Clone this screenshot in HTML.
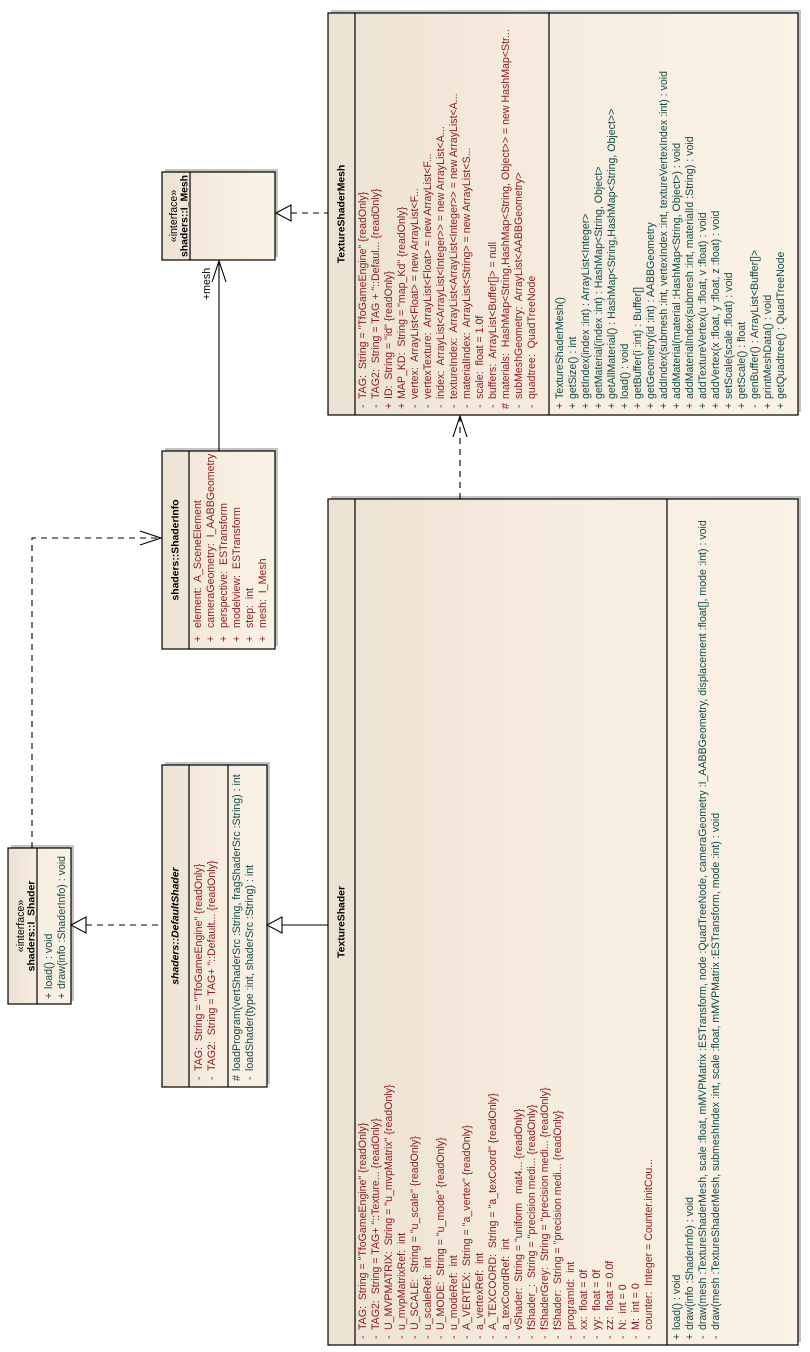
<!DOCTYPE html>
<html><head><meta charset="utf-8"><style>
html,body{margin:0;padding:0;background:#fff;}
svg{display:block;}
text{font-family:"Liberation Sans",sans-serif;font-size:10.6px;white-space:pre;}
.a{fill:#8b1c1c;}
.m{fill:#0f4a48;}
.h{fill:#000;font-weight:bold;font-size:10.4px;}
</style></head><body>
<svg width="810" height="1352" viewBox="0 0 810 1352" xmlns="http://www.w3.org/2000/svg" xml:space="preserve">
<defs>
<linearGradient id="g" x1="0" y1="0" x2="1" y2="0">
<stop offset="0" stop-color="#ece2d3"/><stop offset="0.5" stop-color="#f7ece0"/><stop offset="1" stop-color="#fbf2e6"/>
</linearGradient>
</defs>
<g stroke="none" fill="#c4c4c4">
<rect x="331" y="10" width="470" height="402"/>
<rect x="331" y="496" width="470" height="846"/>
<rect x="165" y="169" width="113" height="88"/>
<rect x="165" y="448" width="113" height="198"/>
<rect x="165" y="762" width="105" height="322"/>
<rect x="11" y="845" width="63" height="156"/>
</g>
<g stroke="#000" stroke-width="1.2" fill="url(#g)">
<rect x="328" y="13" width="470" height="402"/>
<rect x="328" y="499" width="470" height="846"/>
<rect x="162" y="172" width="113" height="88"/>
<rect x="162" y="451" width="113" height="198"/>
<rect x="162" y="765" width="105" height="322"/>
<rect x="8" y="848" width="63" height="156"/>
</g>
<g stroke="#000" stroke-width="1.2">
<line x1="355" y1="13" x2="355" y2="415"/><line x1="549" y1="13" x2="549" y2="415"/>
<line x1="355" y1="499" x2="355" y2="1345"/><line x1="667" y1="499" x2="667" y2="1345"/>
<line x1="190" y1="172" x2="190" y2="260"/>
<line x1="189" y1="451" x2="189" y2="649"/>
<line x1="189" y1="765" x2="189" y2="1087"/><line x1="228" y1="765" x2="228" y2="1087"/>
<line x1="37" y1="848" x2="37" y2="1004"/>
</g>
<g stroke="#000" stroke-width="1.1" fill="none">
<line x1="291" y1="213" x2="328" y2="213" stroke-dasharray="6,5"/>
<polygon points="276,213 291,205 291,221" fill="#fff"/>
<line x1="219" y1="451" x2="219" y2="261"/>
<polyline points="212,282 219,261 226,282"/>
<polyline points="32,848 32,538 161,538" stroke-dasharray="6,5"/>
<polyline points="140,531 161,538 140,545"/>
<line x1="86" y1="925" x2="162" y2="925" stroke-dasharray="6,5"/>
<polygon points="71,925 86,917 86,933" fill="#fff"/>
<line x1="282" y1="925" x2="328" y2="925"/>
<polygon points="267,925 282,917 282,933" fill="#fff"/>
<line x1="460" y1="499" x2="460" y2="416" stroke-dasharray="6,5"/>
<polyline points="453,437 460,416 467,437"/>
</g>
<text transform="translate(207,300) rotate(-90)" dominant-baseline="central" font-size="9.5">+mesh</text>

<text transform="translate(174,216) rotate(-90)" dominant-baseline="central" text-anchor="middle" font-size="9.5">«interface»</text>
<text class="h" transform="translate(185,216) rotate(-90)" dominant-baseline="central" text-anchor="middle">shaders::I_Mesh</text>

<text class="h" transform="translate(176,550) rotate(-90)" dominant-baseline="central" text-anchor="middle">shaders::ShaderInfo</text>
<g class="a" dominant-baseline="central">
<text transform="translate(198,628) rotate(-90)">element:  A_SceneElement</text>
<text transform="translate(211,628) rotate(-90)">cameraGeometry:  I_AABBGeometry</text>
<text transform="translate(224,628) rotate(-90)">perspective:  ESTransform</text>
<text transform="translate(237,628) rotate(-90)">modelview:  ESTransform</text>
<text transform="translate(250,628) rotate(-90)">step:  int</text>
<text transform="translate(263,628) rotate(-90)">mesh:  I_Mesh</text>
<text transform="translate(198,642) rotate(-90)">+</text><text transform="translate(211,642) rotate(-90)">+</text><text transform="translate(224,642) rotate(-90)">+</text><text transform="translate(237,642) rotate(-90)">+</text><text transform="translate(250,642) rotate(-90)">+</text><text transform="translate(263,642) rotate(-90)">+</text>
</g>

<text transform="translate(21,926) rotate(-90)" dominant-baseline="central" text-anchor="middle" font-size="9.5">«interface»</text>
<text class="h" transform="translate(32,926) rotate(-90)" dominant-baseline="central" text-anchor="middle">shaders::I_Shader</text>
<g class="m" dominant-baseline="central">
<text transform="translate(49,989) rotate(-90)">load() : void</text>
<text transform="translate(62,989) rotate(-90)">draw(info :ShaderInfo) : void</text>
<text transform="translate(49,999) rotate(-90)">+</text><text transform="translate(62,999) rotate(-90)">+</text>
</g>

<text class="h" transform="translate(176,926) rotate(-90)" dominant-baseline="central" text-anchor="middle" font-style="italic">shaders::DefaultShader</text>
<g class="a" dominant-baseline="central">
<text transform="translate(199,1071) rotate(-90)">TAG:  String = "TfoGameEngine" {readOnly}</text>
<text transform="translate(212,1071) rotate(-90)">TAG2:  String = TAG+ "::Default... {readOnly}</text>
<text transform="translate(199,1080) rotate(-90)">-</text><text transform="translate(212,1080) rotate(-90)">-</text>
</g>
<g class="m" dominant-baseline="central">
<text transform="translate(237,1071) rotate(-90)">loadProgram(vertShaderSrc :String, fragShaderSrc :String) : int</text>
<text transform="translate(250,1071) rotate(-90)">loadShader(type :int, shaderSrc :String) : int</text>
<text transform="translate(237,1081) rotate(-90)">#</text><text transform="translate(250,1080) rotate(-90)">-</text>
</g>

<text class="h" transform="translate(342,214) rotate(-90)" dominant-baseline="central" text-anchor="middle">TextureShaderMesh</text>
<g class="a" dominant-baseline="central">
<text transform="translate(363,399) rotate(-90)">TAG:  String = "TfoGameEngine" {readOnly}</text>
<text transform="translate(376,399) rotate(-90)">TAG2:  String = TAG + "::Defaul... {readOnly}</text>
<text transform="translate(389,399) rotate(-90)">ID:  String = "id" {readOnly}</text>
<text transform="translate(402,399) rotate(-90)">MAP_KD:  String = "map_Kd" {readOnly}</text>
<text transform="translate(415,399) rotate(-90)">vertex:  ArrayList&lt;Float&gt; = new ArrayList&lt;F...</text>
<text transform="translate(428,399) rotate(-90)">vertexTexture:  ArrayList&lt;Float&gt; = new ArrayList&lt;F...</text>
<text transform="translate(441,399) rotate(-90)">index:  ArrayList&lt;ArrayList&lt;Integer&gt;&gt; = new ArrayList&lt;A...</text>
<text transform="translate(454,399) rotate(-90)">textureIndex:  ArrayList&lt;ArrayList&lt;Integer&gt;&gt; = new ArrayList&lt;A...</text>
<text transform="translate(467,399) rotate(-90)">materialIndex:  ArrayList&lt;String&gt; = new ArrayList&lt;S...</text>
<text transform="translate(480,399) rotate(-90)">scale:  float = 1.0f</text>
<text transform="translate(493,399) rotate(-90)">buffers:  ArrayList&lt;Buffer[]&gt; = null</text>
<text transform="translate(506,399) rotate(-90)">materials:  HashMap&lt;String,HashMap&lt;String, Object&gt;&gt; = new HashMap&lt;Str...</text>
<text transform="translate(519,399) rotate(-90)">subMeshGeometry:  ArrayList&lt;AABBGeometry&gt;</text>
<text transform="translate(532,399) rotate(-90)">quadtree:  QuadTreeNode</text>
<text transform="translate(363,408) rotate(-90)">-</text><text transform="translate(376,408) rotate(-90)">-</text><text transform="translate(389,409) rotate(-90)">+</text><text transform="translate(402,409) rotate(-90)">+</text><text transform="translate(415,408) rotate(-90)">-</text><text transform="translate(428,408) rotate(-90)">-</text><text transform="translate(441,408) rotate(-90)">-</text><text transform="translate(454,408) rotate(-90)">-</text><text transform="translate(467,408) rotate(-90)">-</text><text transform="translate(480,408) rotate(-90)">-</text><text transform="translate(493,408) rotate(-90)">-</text><text transform="translate(506,409) rotate(-90)">#</text><text transform="translate(519,408) rotate(-90)">-</text><text transform="translate(532,408) rotate(-90)">-</text>
</g>
<g class="m" dominant-baseline="central">
<text transform="translate(560,399) rotate(-90)">TextureShaderMesh()</text>
<text transform="translate(573,399) rotate(-90)">getSize() : int</text>
<text transform="translate(586,399) rotate(-90)">getIndex(index :int) : ArrayList&lt;Integer&gt;</text>
<text transform="translate(599,399) rotate(-90)">getMaterial(index :int) : HashMap&lt;String, Object&gt;</text>
<text transform="translate(612,399) rotate(-90)">getAllMaterial() : HashMap&lt;String,HashMap&lt;String, Object&gt;&gt;</text>
<text transform="translate(625,399) rotate(-90)">load() : void</text>
<text transform="translate(638,399) rotate(-90)">getBuffer(i :int) : Buffer[]</text>
<text transform="translate(651,399) rotate(-90)">getGeometry(id :int) : AABBGeometry</text>
<text transform="translate(664,399) rotate(-90)">addIndex(submesh :int, vertexIndex :int, textureVertexIndex :int) : void</text>
<text transform="translate(677,399) rotate(-90)">addMaterial(material :HashMap&lt;String, Object&gt;) : void</text>
<text transform="translate(690,399) rotate(-90)">addMaterialIndex(submesh :int, materialId :String) : void</text>
<text transform="translate(703,399) rotate(-90)">addTextureVertex(u :float, v :float) : void</text>
<text transform="translate(716,399) rotate(-90)">addVertex(x :float, y :float, z :float) : void</text>
<text transform="translate(729,399) rotate(-90)">setScale(scale :float) : void</text>
<text transform="translate(742,399) rotate(-90)">getScale() : float</text>
<text transform="translate(755,399) rotate(-90)">genBuffer() : ArrayList&lt;Buffer[]&gt;</text>
<text transform="translate(768,399) rotate(-90)">printMeshData() : void</text>
<text transform="translate(781,399) rotate(-90)">getQuadtree() : QuadTreeNode</text>
<text transform="translate(560,409) rotate(-90)">+</text><text transform="translate(573,409) rotate(-90)">+</text><text transform="translate(586,409) rotate(-90)">+</text><text transform="translate(599,409) rotate(-90)">+</text><text transform="translate(612,409) rotate(-90)">+</text><text transform="translate(625,409) rotate(-90)">+</text><text transform="translate(638,409) rotate(-90)">+</text><text transform="translate(651,409) rotate(-90)">+</text><text transform="translate(664,409) rotate(-90)">+</text><text transform="translate(677,409) rotate(-90)">+</text><text transform="translate(690,409) rotate(-90)">+</text><text transform="translate(703,409) rotate(-90)">+</text><text transform="translate(716,409) rotate(-90)">+</text><text transform="translate(729,409) rotate(-90)">+</text><text transform="translate(742,409) rotate(-90)">+</text><text transform="translate(755,408) rotate(-90)">-</text><text transform="translate(768,409) rotate(-90)">+</text><text transform="translate(781,409) rotate(-90)">+</text>
</g>

<text class="h" transform="translate(342,922) rotate(-90)" dominant-baseline="central" text-anchor="middle">TextureShader</text>
<g class="a" dominant-baseline="central">
<text transform="translate(363,1330) rotate(-90)">TAG:  String = "TfoGameEngine" {readOnly}</text>
<text transform="translate(376,1330) rotate(-90)">TAG2:  String = TAG+ "::Texture... {readOnly}</text>
<text transform="translate(389,1330) rotate(-90)">U_MVPMATRIX:  String = "u_mvpMatrix" {readOnly}</text>
<text transform="translate(402,1330) rotate(-90)">u_mvpMatrixRef:  int</text>
<text transform="translate(415,1330) rotate(-90)">U_SCALE:  String = "u_scale" {readOnly}</text>
<text transform="translate(428,1330) rotate(-90)">u_scaleRef:  int</text>
<text transform="translate(441,1330) rotate(-90)">U_MODE:  String = "u_mode" {readOnly}</text>
<text transform="translate(454,1330) rotate(-90)">u_modeRef:  int</text>
<text transform="translate(467,1330) rotate(-90)">A_VERTEX:  String = "a_vertex" {readOnly}</text>
<text transform="translate(480,1330) rotate(-90)">a_vertexRef:  int</text>
<text transform="translate(493,1330) rotate(-90)">A_TEXCOORD:  String = "a_texCoord" {readOnly}</text>
<text transform="translate(506,1330) rotate(-90)">a_texCoordRef:  int</text>
<text transform="translate(519,1330) rotate(-90)">vShader:  String = "uniform   mat4... {readOnly}</text>
<text transform="translate(532,1330) rotate(-90)">fShader_:  String = "precision medi... {readOnly}</text>
<text transform="translate(545,1330) rotate(-90)">fShaderGrey:  String = "precision medi... {readOnly}</text>
<text transform="translate(558,1330) rotate(-90)">fShader:  String = "precision medi... {readOnly}</text>
<text transform="translate(571,1330) rotate(-90)">programId:  int</text>
<text transform="translate(584,1330) rotate(-90)">xx:  float = 0f</text>
<text transform="translate(597,1330) rotate(-90)">yy:  float = 0f</text>
<text transform="translate(610,1330) rotate(-90)">zz:  float = 0.0f</text>
<text transform="translate(623,1330) rotate(-90)">N:  int = 0</text>
<text transform="translate(636,1330) rotate(-90)">M:  int = 0</text>
<text transform="translate(649,1330) rotate(-90)">counter:  Integer = Counter.initCou...</text>
<text transform="translate(363,1339) rotate(-90)">-</text><text transform="translate(376,1339) rotate(-90)">-</text><text transform="translate(389,1339) rotate(-90)">-</text><text transform="translate(402,1339) rotate(-90)">-</text><text transform="translate(415,1339) rotate(-90)">-</text><text transform="translate(428,1339) rotate(-90)">-</text><text transform="translate(441,1339) rotate(-90)">-</text><text transform="translate(454,1339) rotate(-90)">-</text><text transform="translate(467,1339) rotate(-90)">-</text><text transform="translate(480,1339) rotate(-90)">-</text><text transform="translate(493,1339) rotate(-90)">-</text><text transform="translate(506,1339) rotate(-90)">-</text><text transform="translate(519,1339) rotate(-90)">-</text><text transform="translate(532,1339) rotate(-90)">-</text><text transform="translate(545,1339) rotate(-90)">-</text><text transform="translate(558,1339) rotate(-90)">-</text><text transform="translate(571,1339) rotate(-90)">-</text><text transform="translate(584,1339) rotate(-90)">-</text><text transform="translate(597,1339) rotate(-90)">-</text><text transform="translate(610,1339) rotate(-90)">-</text><text transform="translate(623,1339) rotate(-90)">-</text><text transform="translate(636,1339) rotate(-90)">-</text><text transform="translate(649,1339) rotate(-90)">-</text>
</g>
<g class="m" dominant-baseline="central">
<text transform="translate(677,1330) rotate(-90)">load() : void</text>
<text transform="translate(690,1330) rotate(-90)">draw(info :ShaderInfo) : void</text>
<text transform="translate(703,1330) rotate(-90)">draw(mesh :TextureShaderMesh, scale :float, mMVPMatrix :ESTransform, node :QuadTreeNode, cameraGeometry :I_AABBGeometry, displacement :float[], mode :int) : void</text>
<text transform="translate(716,1330) rotate(-90)">draw(mesh :TextureShaderMesh, submeshIndex :int, scale :float, mMVPMatrix :ESTransform, mode :int) : void</text>
<text transform="translate(677,1340) rotate(-90)">+</text><text transform="translate(690,1340) rotate(-90)">+</text><text transform="translate(703,1339) rotate(-90)">-</text><text transform="translate(716,1339) rotate(-90)">-</text>
</g>
</svg>
</body></html>
